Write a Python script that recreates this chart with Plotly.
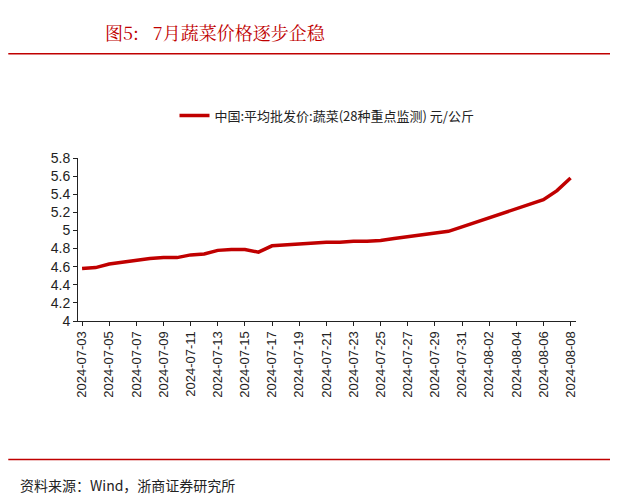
import plotly.graph_objects as go
import pandas as pd

dates = [d.strftime("%Y-%m-%d") for d in pd.date_range("2024-07-03", "2024-08-08")]
values = [4.58, 4.59, 4.63, 4.65, 4.67, 4.69, 4.70, 4.70, 4.73, 4.74, 4.78, 4.79,
          4.79, 4.76, 4.83, 4.84, 4.85, 4.86, 4.87, 4.87, 4.88, 4.88, 4.89, 4.91, 4.93,
          4.95, 4.97, 4.99, 5.04, 5.09, 5.13, 5.19, 5.24, 5.29, 5.34, 5.44, 5.58]
series_name = "中国:平均批发价:蔬菜(28种重点监测) 元/公斤"
tick_labels = dates[::2]
y_ticks = [4, 4.2, 4.4, 4.6, 4.8, 5, 5.2, 5.4, 5.6, 5.8]

font = "Noto Sans CJK SC"
fig = go.Figure(go.Scatter(x=dates, y=values, mode="lines", name=series_name,
                           line=dict(color="#C00000", width=3.5)))
fig.update_layout(
    width=618, height=500, paper_bgcolor="white", plot_bgcolor="white",
    margin=dict(l=70, r=50, t=150, b=187),
    font=dict(family=font, size=13, color="#222"),
    showlegend=True,
    legend=dict(orientation="h", x=0.5, xanchor="center", y=1.26, yanchor="middle",
                font=dict(size=13)),
    xaxis=dict(type="category", tickvals=tick_labels, ticktext=tick_labels, tickangle=-90,
               range=[-0.3, 36.4], automargin=False,
               showline=True, linecolor="#222", ticks="outside", ticklen=4, tickcolor="#222",
               showgrid=False, tickfont=dict(family="Arial", size=13)),
    yaxis=dict(range=[4, 5.8], tickvals=y_ticks, ticktext=[f"{v:g}" for v in y_ticks],
               automargin=False,
               showline=True, linecolor="#222", ticks="outside", ticklen=4, tickcolor="#222",
               showgrid=False, tickfont=dict(family="Arial", size=14)),
    shapes=[dict(type="line", xref="paper", yref="paper", x0=-0.14, x1=1.1, y0=1.64, y1=1.64,
                 line=dict(color="#C00000", width=1.5)),
            dict(type="line", xref="paper", yref="paper", x0=-0.14, x1=1.1, y0=-0.85, y1=-0.85,
                 line=dict(color="#C00000", width=1.5))],
    annotations=[dict(text="图5:   7月蔬菜价格逐步企稳", xref="paper", yref="paper", x=0.05, y=1.68,
                      xanchor="left", yanchor="bottom", showarrow=False,
                      font=dict(size=18, color="#C00000", family="Noto Serif CJK SC, " + font)),
                 dict(text="资料来源：Wind，浙商证券研究所", xref="paper", yref="paper", x=-0.12, y=-0.93,
                      xanchor="left", yanchor="top", showarrow=False, font=dict(size=14, color="#222"))],
)
fig.write_html("out.html")
